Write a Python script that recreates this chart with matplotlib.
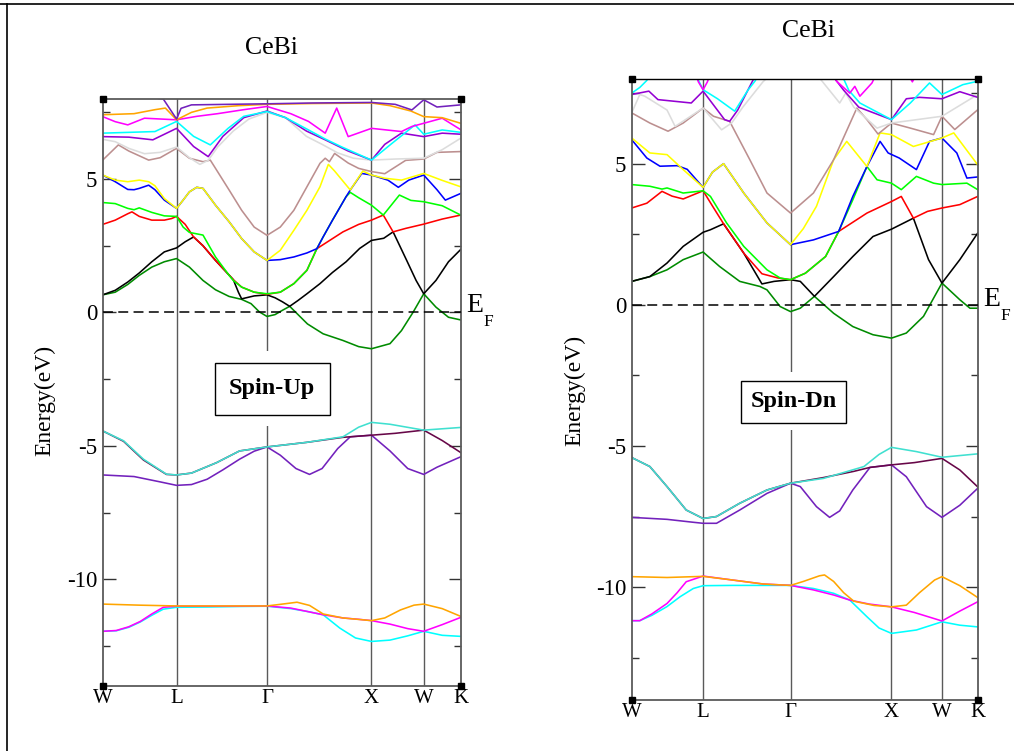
import matplotlib
matplotlib.use("Agg")
import matplotlib.pyplot as plt
from matplotlib.patches import Rectangle
from matplotlib.lines import Line2D

plt.rcParams["font.family"] = ["Liberation Serif", "DejaVu Serif"]
plt.rcParams["axes.unicode_minus"] = False

# ---------------------------------------------------------------- k-path
K_PATH = [0.0, 0.707, 1.573, 2.573, 3.073, 3.427]
K_LABELS = ["W", "L", "Γ", "X", "W", "K"]

# grace colour map used by the band sets
XM = {
    "black": "#000000", "red": "#ff0000", "green": "#00ff00", "blue": "#0000ff",
    "yellow": "#ffff00", "brown": "#bc8f8f", "grey": "#dcdcdc", "violet": "#9400d3",
    "cyan": "#00ffff", "magenta": "#ff00ff", "orange": "#ffa500", "indigo": "#7221bc",
    "maroon": "#670748", "turquoise": "#40e0d0", "green4": "#008b00",
}

# ---------------------------------------------------------------- spin up bands (k, E in eV)
up_s_cyan = [(0, -11.95), (0.13, -11.93), (0.25, -11.8), (0.36, -11.6), (0.47, -11.35), (0.58, -11.12),
             (0.707, -11.05), (1.0, -11.04), (1.3, -11.02), (1.573, -11.01), (1.8, -11.1), (1.95, -11.2),
             (2.11, -11.33), (2.27, -11.83), (2.42, -12.2), (2.573, -12.33), (2.75, -12.28), (2.92, -12.12),
             (3.073, -11.95), (3.25, -12.1), (3.427, -12.14)]
up_s_magenta = [(0, -11.95), (0.13, -11.92), (0.25, -11.78), (0.36, -11.58), (0.47, -11.3), (0.58, -11.05),
                (0.707, -11.01), (1.0, -11.01), (1.3, -11.01), (1.573, -11.0), (1.8, -11.08), (1.95, -11.2),
                (2.11, -11.33), (2.3, -11.45), (2.45, -11.5), (2.573, -11.55), (2.75, -11.68), (2.92, -11.85),
                (3.073, -11.95), (3.25, -11.7), (3.427, -11.43)]
up_s_orange = [(0, -10.93), (0.35, -10.97), (0.707, -11.0), (1.2, -11.0), (1.573, -11.0), (1.72, -10.93),
               (1.86, -10.86), (1.98, -10.98), (2.11, -11.3), (2.3, -11.45), (2.573, -11.55), (2.7, -11.45),
               (2.85, -11.15), (2.98, -10.97), (3.073, -10.93), (3.25, -11.1), (3.427, -11.39)]
up_v_indigo = [(0, -6.09), (0.3, -6.15), (0.55, -6.35), (0.707, -6.48), (0.85, -6.45), (1.0, -6.25),
               (1.15, -5.9), (1.31, -5.5), (1.45, -5.2), (1.573, -5.04), (1.7, -5.35), (1.85, -5.85),
               (1.98, -6.07), (2.1, -5.85), (2.25, -5.1), (2.37, -4.66), (2.573, -4.6), (2.75, -5.19),
               (2.92, -5.85), (3.073, -6.07), (3.2, -5.8), (3.427, -5.41)]
up_v_maroon = [(0, -4.44), (0.2, -4.83), (0.39, -5.53), (0.61, -6.07), (0.707, -6.09), (0.85, -6.02),
               (1.09, -5.63), (1.31, -5.19), (1.573, -5.04), (1.95, -4.87), (2.3, -4.68), (2.37, -4.66),
               (2.573, -4.6), (2.8, -4.53), (3.073, -4.41), (3.25, -4.8), (3.427, -5.25)]
up_v_turq = [(0, -4.44), (0.2, -4.81), (0.39, -5.5), (0.61, -6.06), (0.707, -6.09), (0.85, -6.02),
             (1.09, -5.63), (1.31, -5.19), (1.573, -5.04), (1.95, -4.87), (2.3, -4.66), (2.45, -4.3),
             (2.573, -4.12), (2.75, -4.19), (3.073, -4.41), (3.427, -4.31)]
up_c_green4 = [(0, 0.66), (0.12, 0.76), (0.24, 1.05), (0.35, 1.39), (0.47, 1.7), (0.59, 1.9), (0.707, 2.02),
               (0.83, 1.7), (0.96, 1.2), (1.08, 0.85), (1.21, 0.6), (1.33, 0.49), (1.42, 0.33), (1.5, 0.02),
               (1.573, -0.15), (1.65, -0.08), (1.72, 0.08), (1.79, 0.23), (1.88, -0.12), (1.96, -0.43),
               (2.11, -0.8), (2.3, -1.05), (2.45, -1.28), (2.573, -1.36), (2.75, -1.17), (2.86, -0.68),
               (2.97, 0.0), (3.073, 0.7), (3.19, 0.2), (3.31, -0.18), (3.427, -0.28)]
up_c_black = [(0, 0.66), (0.12, 0.83), (0.24, 1.14), (0.35, 1.48), (0.47, 1.9), (0.59, 2.27), (0.707, 2.42),
              (0.79, 2.65), (0.87, 2.83), (0.96, 2.5), (1.08, 1.95), (1.21, 1.4), (1.25, 1.23), (1.3, 0.75),
              (1.33, 0.51), (1.45, 0.62), (1.573, 0.66), (1.65, 0.55), (1.72, 0.4), (1.79, 0.23), (1.87, 0.45),
              (1.955, 0.7), (2.08, 1.08), (2.2, 1.5), (2.33, 1.9), (2.46, 2.4), (2.573, 2.7), (2.69, 2.78),
              (2.78, 3.02), (2.91, 1.95), (3.0, 1.2), (3.073, 0.7), (3.19, 1.2), (3.31, 1.9), (3.427, 2.36)]
up_c_red = [(0, 3.3), (0.12, 3.46), (0.24, 3.7), (0.28, 3.77), (0.35, 3.6), (0.47, 3.46), (0.59, 3.46),
            (0.66, 3.52), (0.707, 3.6), (0.79, 3.3), (0.87, 2.83), (0.96, 2.5), (1.08, 1.95), (1.21, 1.4),
            (1.25, 1.23), (1.33, 0.95), (1.45, 0.76), (1.573, 0.68), (1.7, 0.76), (1.83, 1.08), (1.955, 1.58),
            (2.05, 2.39), (2.3, 3.02), (2.45, 3.3), (2.573, 3.46), (2.686, 3.65), (2.78, 3.02), (2.9, 3.15),
            (3.073, 3.31), (3.25, 3.5), (3.427, 3.65)]
up_c_green = [(0, 4.12), (0.12, 4.08), (0.24, 3.9), (0.3, 3.85), (0.35, 3.92), (0.47, 3.75), (0.59, 3.62),
              (0.707, 3.6), (0.77, 3.2), (0.83, 3.0), (0.96, 2.9), (1.08, 2.08), (1.21, 1.39), (1.25, 1.2),
              (1.33, 0.95), (1.45, 0.76), (1.573, 0.7), (1.7, 0.76), (1.83, 1.08), (1.955, 1.58), (2.05, 2.39),
              (2.11, 2.83), (2.2, 3.46), (2.33, 4.34), (2.37, 4.5), (2.45, 4.3), (2.573, 4.02), (2.686, 3.65),
              (2.84, 4.4), (2.95, 4.2), (3.073, 4.15), (3.25, 4.0), (3.427, 3.65)]
up_c_blue = [(0, 5.15), (0.12, 4.9), (0.24, 4.61), (0.3, 4.6), (0.35, 4.65), (0.44, 4.77), (0.5, 4.6),
             (0.59, 4.21), (0.707, 3.9), (0.77, 4.21), (0.83, 4.52), (0.9, 4.69), (0.96, 4.65), (1.08, 4.02),
             (1.21, 3.4), (1.33, 2.77), (1.45, 2.27), (1.573, 1.95), (1.7, 1.98), (1.83, 2.08), (1.955, 2.23),
             (2.05, 2.39), (2.11, 2.83), (2.2, 3.46), (2.33, 4.34), (2.37, 4.59), (2.48, 5.21), (2.573, 5.15),
             (2.73, 4.96), (2.83, 4.69), (2.93, 4.96), (3.073, 5.15), (3.2, 4.6), (3.28, 4.21), (3.427, 4.46)]
up_c_yellow = [(0, 5.15), (0.12, 4.96), (0.24, 4.9), (0.35, 4.96), (0.44, 4.9), (0.5, 4.75), (0.59, 4.27),
               (0.707, 3.9), (0.77, 4.21), (0.83, 4.52), (0.9, 4.69), (0.96, 4.65), (1.08, 4.02), (1.21, 3.4),
               (1.33, 2.77), (1.45, 2.27), (1.573, 1.95), (1.7, 2.33), (1.83, 3.08), (1.955, 3.83), (2.08, 4.71),
               (2.16, 5.55), (2.22, 5.3), (2.37, 4.59), (2.49, 5.3), (2.573, 5.15), (2.7, 5.03), (2.86, 4.96),
               (3.073, 5.21), (3.25, 4.95), (3.427, 4.71)]
up_c_brown = [(0, 5.71), (0.15, 6.28), (0.25, 6.05), (0.44, 5.71), (0.55, 5.8), (0.707, 6.15), (0.83, 5.78),
              (0.96, 5.65), (1.03, 5.71), (1.08, 5.4), (1.21, 4.59), (1.33, 3.83), (1.45, 3.2), (1.573, 2.89),
              (1.7, 3.2), (1.83, 3.83), (1.955, 4.71), (2.08, 5.59), (2.13, 5.78), (2.17, 5.65), (2.22, 5.96),
              (2.35, 5.6), (2.45, 5.4), (2.573, 5.28), (2.7, 5.2), (2.9, 5.7), (3.073, 5.75), (3.2, 6.0),
              (3.427, 6.03)]
up_c_grey = [(0, 6.49), (0.12, 6.4), (0.25, 6.15), (0.4, 5.95), (0.55, 6.0), (0.707, 6.2), (0.83, 5.8),
             (0.93, 5.55), (1.01, 5.7), (1.1, 6.2), (1.25, 6.8), (1.4, 7.25), (1.573, 7.5), (1.75, 7.3),
             (1.95, 6.6), (2.1, 6.3), (2.25, 5.98), (2.4, 5.78), (2.573, 5.71), (2.8, 5.75), (3.073, 5.78),
             (3.25, 6.1), (3.427, 6.53)]
up_c_violet = [(0, 6.59), (0.25, 6.57), (0.48, 6.47), (0.707, 6.9), (0.87, 6.22), (1.01, 5.84), (1.15, 6.6),
               (1.35, 7.3), (1.573, 7.55), (1.75, 7.3), (1.95, 6.8), (2.13, 6.47), (2.35, 6.05), (2.573, 5.71),
               (2.7, 6.3), (2.86, 6.72), (3.073, 6.59), (3.25, 6.72), (3.427, 6.68)]
up_c_cyan = [(0, 6.72), (0.25, 6.75), (0.5, 6.78), (0.707, 7.16), (0.87, 6.6), (1.03, 6.28), (1.2, 6.9),
             (1.35, 7.35), (1.573, 7.53), (1.75, 7.3), (1.97, 6.84), (2.13, 6.5), (2.29, 6.2), (2.573, 5.71),
             (2.77, 6.34), (2.99, 7.03), (3.073, 6.68), (3.25, 6.84), (3.427, 6.75)]
up_c_magenta = [(0, 7.34), (0.12, 7.15), (0.24, 7.03), (0.4, 7.28), (0.707, 7.22), (0.9, 7.35), (1.1, 7.45),
                (1.35, 7.6), (1.573, 7.72), (1.8, 7.45), (1.97, 7.16), (2.13, 6.72), (2.24, 7.66), (2.35, 6.59),
                (2.573, 6.9), (2.86, 6.78), (2.96, 6.97), (3.073, 7.09), (3.25, 7.28), (3.427, 6.85)]
up_c_orange = [(0, 7.41), (0.3, 7.45), (0.5, 7.6), (0.6, 7.66), (0.707, 7.22), (0.85, 7.5), (1.0, 7.66),
               (1.3, 7.75), (1.573, 7.8), (2.0, 7.83), (2.573, 7.85), (2.75, 7.75), (2.95, 7.55), (3.073, 7.34),
               (3.25, 7.3), (3.427, 7.09)]
up_c_indigo = [(0, 8.1), (0.3, 8.15), (0.58, 8.0), (0.707, 7.25), (0.75, 7.65), (0.85, 7.78), (1.2, 7.8),
               (1.573, 7.82), (2.0, 7.85), (2.573, 7.87), (2.8, 7.8), (2.96, 7.59), (3.073, 7.97), (3.2, 7.7),
               (3.427, 7.78)]

# ---------------------------------------------------------------- spin down bands (k, E in eV)
dn_s_cyan = [(0, -11.19), (0.08, -11.19), (0.2, -11.0), (0.35, -10.69), (0.48, -10.34), (0.61, -10.05),
             (0.707, -9.95), (1.0, -9.94), (1.3, -9.94), (1.573, -9.94), (1.8, -10.05), (2.0, -10.22),
             (2.16, -10.46), (2.33, -11.05), (2.45, -11.45), (2.573, -11.64), (2.82, -11.52), (3.073, -11.23),
             (3.25, -11.35), (3.427, -11.41)]
dn_s_magenta = [(0, -11.19), (0.08, -11.19), (0.2, -10.95), (0.35, -10.58), (0.45, -10.2), (0.54, -9.81),
                (0.707, -9.61), (1.0, -9.75), (1.3, -9.89), (1.573, -9.94), (1.8, -10.1), (2.0, -10.28),
                (2.16, -10.46), (2.35, -10.6), (2.573, -10.7), (2.8, -10.9), (3.073, -11.2), (3.25, -10.85),
                (3.427, -10.52)]
dn_s_orange = [(0, -9.63), (0.35, -9.66), (0.707, -9.62), (1.0, -9.75), (1.3, -9.89), (1.573, -9.94),
               (1.7, -9.8), (1.86, -9.6), (1.91, -9.57), (2.0, -9.8), (2.1, -10.2), (2.2, -10.5), (2.4, -10.65),
               (2.573, -10.7), (2.72, -10.64), (2.85, -10.2), (3.0, -9.75), (3.073, -9.63), (3.25, -9.95),
               (3.427, -10.37)]
dn_v_indigo = [(0, -7.53), (0.35, -7.6), (0.6, -7.7), (0.707, -7.74), (0.84, -7.74), (1.07, -7.27),
               (1.34, -6.68), (1.573, -6.32), (1.67, -6.44), (1.83, -7.15), (1.96, -7.53), (2.06, -7.3),
               (2.19, -6.56), (2.36, -5.76), (2.573, -5.67), (2.72, -6.09), (2.92, -7.15), (3.073, -7.53),
               (3.25, -7.1), (3.427, -6.5)]
dn_v_maroon = [(0, -5.41), (0.18, -5.73), (0.35, -6.44), (0.54, -7.27), (0.707, -7.57), (0.84, -7.5),
               (1.07, -7.03), (1.34, -6.56), (1.573, -6.32), (1.9, -6.12), (2.2, -5.9), (2.36, -5.76),
               (2.573, -5.67), (2.8, -5.59), (3.073, -5.44), (3.25, -5.85), (3.427, -6.45)]
dn_v_turq = [(0, -5.41), (0.18, -5.73), (0.35, -6.44), (0.54, -7.27), (0.707, -7.57), (0.84, -7.5),
             (1.07, -7.03), (1.34, -6.56), (1.573, -6.32), (1.9, -6.15), (2.3, -5.73), (2.45, -5.3),
             (2.573, -5.05), (2.82, -5.2), (3.073, -5.4), (3.427, -5.28)]
dn_c_green4 = [(0, 0.83), (0.18, 1.0), (0.35, 1.24), (0.51, 1.6), (0.707, 1.87), (0.87, 1.36), (1.07, 0.83),
               (1.27, 0.65), (1.34, 0.53), (1.47, -0.06), (1.573, -0.24), (1.67, -0.12), (1.81, 0.3),
               (2.0, -0.3), (2.19, -0.77), (2.39, -1.06), (2.573, -1.18), (2.72, -1.0), (2.89, -0.41),
               (3.073, 0.77), (3.25, 0.18), (3.35, -0.12), (3.427, -0.12)]
dn_c_black = [(0, 0.83), (0.18, 1.0), (0.35, 1.48), (0.51, 2.07), (0.707, 2.57), (0.78, 2.66), (0.91, 2.87),
              (1.11, 1.83), (1.29, 0.74), (1.41, 0.83), (1.573, 0.89), (1.67, 0.83), (1.81, 0.3), (2.0, 1.0),
              (2.19, 1.71), (2.39, 2.42), (2.573, 2.68), (2.79, 3.07), (2.94, 1.6), (3.073, 0.77),
              (3.25, 1.6), (3.427, 2.54)]
dn_c_red = [(0, 3.43), (0.15, 3.6), (0.3, 4.02), (0.4, 3.85), (0.51, 3.75), (0.707, 4.04), (0.8, 3.5),
            (0.91, 2.87), (1.11, 1.83), (1.29, 1.1), (1.45, 0.95), (1.573, 0.89), (1.72, 1.12), (1.92, 1.71),
            (2.05, 2.6), (2.33, 3.25), (2.573, 3.66), (2.67, 3.84), (2.79, 3.07), (2.93, 3.31), (3.073, 3.43),
            (3.25, 3.55), (3.427, 3.84)]
dn_c_green = [(0, 4.26), (0.18, 4.2), (0.3, 4.1), (0.35, 4.14), (0.51, 3.96), (0.707, 4.04), (0.78, 3.84),
              (0.94, 2.9), (1.11, 2.07), (1.34, 1.24), (1.47, 0.95), (1.573, 0.89), (1.72, 1.12), (1.92, 1.71),
              (2.05, 2.6), (2.19, 3.72), (2.33, 4.9), (2.43, 4.43), (2.573, 4.31), (2.67, 4.08), (2.82, 4.55),
              (2.99, 4.31), (3.073, 4.26), (3.32, 4.31), (3.427, 4.08)]
dn_c_blue = [(0, 5.85), (0.15, 5.2), (0.28, 4.91), (0.45, 4.93), (0.55, 4.8), (0.707, 4.16), (0.8, 4.7),
             (0.91, 5.0), (1.11, 3.96), (1.34, 2.9), (1.573, 2.13), (1.8, 2.3), (2.05, 2.6), (2.19, 3.84),
             (2.33, 4.9), (2.46, 5.79), (2.54, 5.38), (2.65, 5.2), (2.82, 4.79), (2.95, 5.79), (3.073, 5.91),
             (3.22, 5.38), (3.32, 4.49), (3.427, 4.53)]
dn_c_yellow = [(0, 5.91), (0.18, 5.38), (0.35, 5.32), (0.51, 4.79), (0.707, 4.16), (0.8, 4.7), (0.91, 5.0),
               (1.11, 3.96), (1.34, 2.9), (1.573, 2.13), (1.7, 2.7), (1.83, 3.49), (2.0, 5.14), (2.13, 5.79),
               (2.33, 4.9), (2.46, 6.09), (2.573, 6.03), (2.79, 5.61), (3.073, 5.91), (3.19, 6.09),
               (3.427, 4.96)]
dn_c_brown = [(0, 6.8), (0.18, 6.44), (0.36, 6.15), (0.51, 6.44), (0.707, 6.97), (0.81, 6.68), (0.97, 6.5),
              (1.17, 5.14), (1.34, 3.96), (1.573, 3.25), (1.8, 3.96), (2.0, 5.14), (2.23, 6.97), (2.33, 6.56),
              (2.44, 6.05), (2.573, 6.44), (2.76, 6.26), (2.99, 6.03), (3.073, 6.68), (3.2, 6.21),
              (3.427, 6.91)]
dn_c_grey = [(0, 6.8), (0.08, 7.45), (0.13, 7.39), (0.35, 6.9), (0.43, 6.32), (0.707, 6.97), (0.89, 6.2),
             (0.99, 6.44), (1.1, 7.0), (1.3, 7.9), (1.45, 8.4), (1.573, 8.5), (1.8, 8.3), (1.9, 7.86),
             (2.06, 7.15), (2.12, 7.5), (2.2, 7.0), (2.43, 6.26), (2.573, 6.44), (3.073, 6.68), (3.427, 7.45)]
dn_c_violet = [(0, 7.45), (0.17, 7.57), (0.26, 7.27), (0.59, 7.15), (0.707, 7.57), (0.92, 6.56), (0.97, 6.5),
               (1.05, 6.9), (1.15, 7.6), (1.25, 8.3), (1.573, 8.6), (1.95, 8.3), (2.1, 7.6), (2.25, 7.0),
               (2.573, 6.56), (2.72, 7.3), (2.85, 7.35), (3.073, 7.3), (3.25, 7.55), (3.427, 7.35)]
dn_c_cyan = [(0, 7.5), (0.08, 7.7), (0.15, 7.95), (0.2, 8.4), (0.6, 8.4), (0.707, 7.62), (0.85, 7.3),
             (1.02, 6.86), (1.15, 7.6), (1.22, 7.92), (1.3, 8.4), (1.573, 8.7), (2.05, 8.4), (2.15, 7.6),
             (2.26, 7.15), (2.573, 6.56), (2.76, 7.15), (2.95, 7.86), (3.073, 7.45), (3.28, 7.8),
             (3.427, 7.92)]
dn_c_magenta = [(0, 8.6), (0.6, 8.6), (0.66, 7.9), (0.707, 7.62), (0.75, 7.9), (0.82, 8.6), (1.573, 9.0),
                (1.95, 8.4), (2.03, 7.92), (2.16, 7.5), (2.21, 7.74), (2.26, 7.39), (2.38, 7.86), (2.45, 8.4),
                (2.7, 8.4), (2.78, 7.9), (2.85, 8.4), (3.427, 8.6)]

UP_BANDS = [
    (up_s_cyan, "cyan"), (up_s_magenta, "magenta"), (up_s_orange, "orange"),
    (up_v_indigo, "indigo"), (up_v_maroon, "maroon"), (up_v_turq, "turquoise"),
    (up_c_green4, "green4"), (up_c_black, "black"), (up_c_red, "red"), (up_c_green, "green"),
    (up_c_blue, "blue"), (up_c_yellow, "yellow"), (up_c_brown, "brown"), (up_c_grey, "grey"),
    (up_c_violet, "violet"), (up_c_cyan, "cyan"), (up_c_magenta, "magenta"), (up_c_orange, "orange"),
    (up_c_indigo, "indigo"),
]
DN_BANDS = [
    (dn_s_cyan, "cyan"), (dn_s_magenta, "magenta"), (dn_s_orange, "orange"),
    (dn_v_indigo, "indigo"), (dn_v_maroon, "maroon"), (dn_v_turq, "turquoise"),
    (dn_c_green4, "green4"), (dn_c_black, "black"), (dn_c_red, "red"), (dn_c_green, "green"),
    (dn_c_blue, "blue"), (dn_c_yellow, "yellow"), (dn_c_brown, "brown"), (dn_c_grey, "grey"),
    (dn_c_violet, "violet"), (dn_c_cyan, "cyan"), (dn_c_magenta, "magenta"),
]

E_MIN, E_MAX = -14, 8
FIG_W, FIG_H = 1014, 751


def px_rect(x0, y0, x1, y1):
    """pixel box (top-left origin) -> figure fraction rect"""
    return [x0 / FIG_W, 1 - y1 / FIG_H, (x1 - x0) / FIG_W, (y1 - y0) / FIG_H]


def draw_panel(ax, bands, tag, tag_box, gap_box, top_black=False):
    for pts, cname in bands:
        ks = [p[0] for p in pts]
        es = [p[1] for p in pts]
        ax.plot(ks, es, color=XM[cname], lw=1.15, solid_joinstyle="round", zorder=2)
    ax.set_xlim(K_PATH[0], K_PATH[-1])
    ax.set_ylim(E_MIN, E_MAX)
    for kv in K_PATH[1:-1]:
        ax.axvline(kv, color="#5a5a5a", lw=1.0, zorder=1)
    ax.axhline(0, color="k", lw=1.1, ls=(0, (6.5, 3.5)), zorder=3)

    ax.set_xticks(K_PATH)
    ax.set_xticklabels(K_LABELS, fontsize=15)
    ax.set_yticks([-10, -5, 0, 5])
    ax.set_yticklabels(["-10", "-5", "0", "5"], fontsize=16.5)
    ax.set_yticks([-12.5, -7.5, -2.5, 2.5, 7.5], minor=True)
    ax.tick_params(axis="x", length=0, pad=2)
    ax.tick_params(axis="y", which="major", direction="in", left=True, right=True,
                   length=9, width=1.0, color="#333333", pad=4)
    ax.tick_params(axis="y", which="minor", direction="in", left=True, right=True,
                   length=5, width=1.0, color="#333333")
    for sp in ax.spines.values():
        sp.set_color("#5a5a5a")
        sp.set_linewidth(1.3)
    if top_black:
        ax.spines["top"].set_color("black")
        ax.spines["top"].set_linewidth(1.0)

    # corner markers
    ax.plot([K_PATH[0], K_PATH[-1], K_PATH[0], K_PATH[-1]], [E_MAX, E_MAX, E_MIN, E_MIN],
            "s", color="black", ms=5, clip_on=False, zorder=10)

    # label box, with a white margin that masks the grid lines
    gk0, gk1, ge0, ge1 = gap_box
    ax.add_patch(Rectangle((gk0, ge0), gk1 - gk0, ge1 - ge0, facecolor="white",
                           edgecolor="none", zorder=6))
    bk0, bk1, be0, be1 = tag_box
    ax.add_patch(Rectangle((bk0, be0), bk1 - bk0, be1 - be0, facecolor="white",
                           edgecolor="black", lw=1.0, zorder=7))
    ax.text((bk0 + bk1) / 2, (be0 + be1) / 2, tag, ha="center", va="center",
            fontsize=17.5, fontweight="bold", zorder=8)


fig = plt.figure(figsize=(FIG_W / 100, FIG_H / 100), dpi=100)

ax_up = fig.add_axes(px_rect(102.7, 99, 460.7, 686))
draw_panel(ax_up, UP_BANDS, "Spin-Up",
           tag_box=(1.072, 2.175, -3.83, -1.88), gap_box=(1.072, 2.175, -4.25, -1.43))

ax_dn = fig.add_axes(px_rect(631.7, 79, 977.7, 700))
draw_panel(ax_dn, DN_BANDS, "Spin-Dn",
           tag_box=(1.079, 2.125, -4.18, -2.70), gap_box=(1.079, 2.125, -4.43, -2.38), top_black=True)

# titles, axis labels and Fermi level labels
fig.text(271 / FIG_W, 1 - 48 / FIG_H, "CeBi", ha="center", va="center", fontsize=18.5)
fig.text(808 / FIG_W, 1 - 31 / FIG_H, "CeBi", ha="center", va="center", fontsize=18.5)
fig.text(45 / FIG_W, 1 - 400 / FIG_H, "Energy(eV)", rotation=90, ha="center", va="center", fontsize=17)
fig.text(575 / FIG_W, 1 - 390 / FIG_H, "Energy(eV)", rotation=90, ha="center", va="center", fontsize=17)
for ex, ey in [(466, 306), (983, 300)]:
    fig.text(ex / FIG_W, 1 - ey / FIG_H, "E", ha="left", va="center", fontsize=20)
    fig.text((ex + 17) / FIG_W, 1 - (ey + 16) / FIG_H, "F", ha="left", va="center", fontsize=12.5)

# outer frame edges
fig.add_artist(Line2D([0, 1], [1 - 4 / FIG_H, 1 - 4 / FIG_H], transform=fig.transFigure,
                      color="black", lw=1.2))
fig.add_artist(Line2D([7 / FIG_W, 7 / FIG_W], [0, 1 - 4 / FIG_H], transform=fig.transFigure,
                      color="black", lw=1.2))

fig.savefig("out.png", dpi=100, facecolor="white")
